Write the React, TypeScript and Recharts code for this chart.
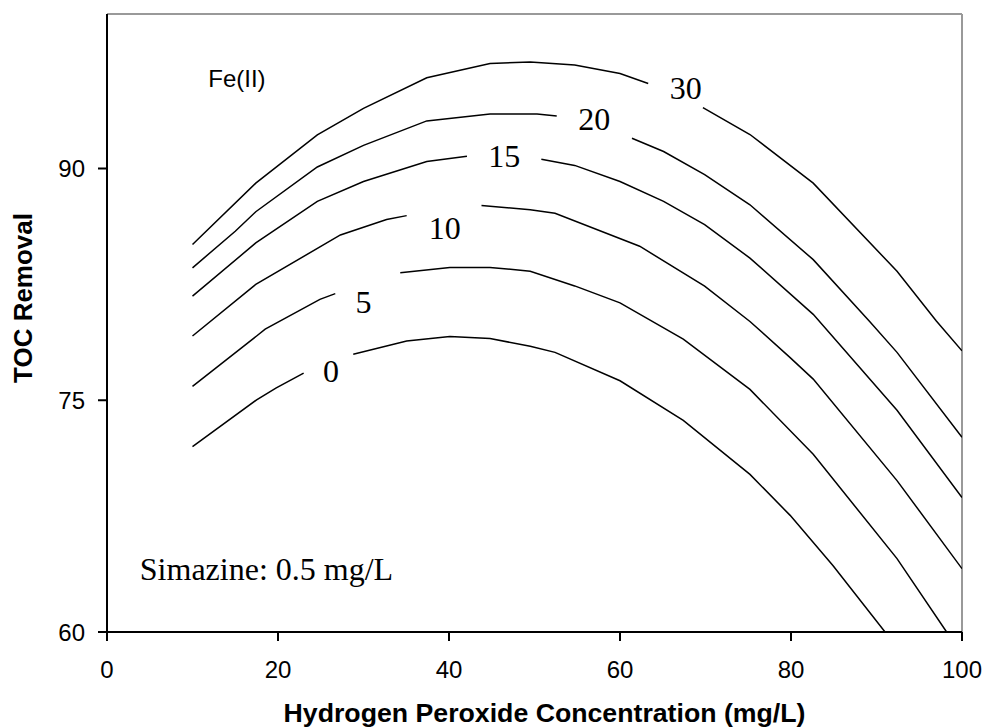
import React from 'react';
import { ComposedChart, Line, Scatter, XAxis, YAxis, ReferenceLine, ReferenceDot, Label } from 'recharts';

// contour lines of TOC removal vs H2O2, one per Fe(II) dose; null = gap for the label
type Pt = [number, number | null];

const fe0: Pt[] = [
  [10, 72.0], [17.5, 75.03], [19.8, 75.8], [23.0, 76.75], [26, null],
  [28.8, 77.98], [35.05, 78.84], [40.1, 79.12], [44.8, 78.99], [49.5, 78.5], [52.4, 78.1],
  [60, 76.26], [67.4, 73.7], [75.2, 70.2], [79.9, 67.55], [84.9, 64.3], [91.0, 60],
];
const fe5: Pt[] = [
  [10, 75.9], [17.5, 79.16], [18.5, 79.6], [24.9, 81.53], [26.7, 81.9], [30, null],
  [34.3, 83.25], [40.1, 83.6], [44.8, 83.6], [49.5, 83.35], [54.7, 82.4], [60, 81.3],
  [67.4, 78.95], [75.2, 75.7], [82.6, 71.5], [92.4, 64.75], [98.2, 60],
];
const fe10: Pt[] = [
  [10, 79.16], [17.4, 82.5], [27.3, 85.7], [32.7, 86.7], [35.05, 86.95], [39.5, null],
  [43.8, 87.6], [49.5, 87.33], [52.4, 87.1], [62.3, 84.97], [69.9, 82.39], [75.2, 80.1],
  [79.9, 77.76], [82.6, 76.37], [92.4, 69.8], [100, 64.1],
];
const fe15: Pt[] = [
  [10, 81.74], [17.4, 85.18], [24.6, 87.87], [30, 89.16], [37.4, 90.45], [42.1, 90.8], [46.5, null],
  [50.8, 90.6], [54.7, 90.2], [60, 89.16], [65.1, 87.87], [69.9, 86.37], [75.2, 84.2],
  [82.6, 80.56], [92.4, 74.35], [100, 68.7],
];
const fe20: Pt[] = [
  [10, 83.57], [15.0, 85.94], [17.4, 87.2], [24.6, 90.1], [30, 91.5], [37.4, 93.08],
  [44.8, 93.53], [50.3, 93.53], [52.6, 93.4], [57, null],
  [61.4, 91.96], [65.1, 91.1], [69.9, 89.6], [75.2, 87.65], [82.6, 84.1], [89.2, 80.1],
  [92.4, 78.1], [100, 72.6],
];
const fe30: Pt[] = [
  [10, 85.08], [17.4, 89.05], [24.6, 92.17], [30, 93.89], [37.4, 95.87], [44.8, 96.8],
  [49.5, 96.9], [54.7, 96.7], [60, 96.15], [63.3, 95.5], [67, null],
  [69.7, 93.94], [75.2, 92.2], [82.6, 89.05], [92.4, 83.35], [97.0, 80.13], [100, 78.2],
];

const labelText = ['0', '5', '10', '15', '20', '30'];
const labelX = [26.2, 30.0, 39.5, 46.45, 57.0, 67.7];
const labelY = [76.87, 81.37, 86.18, 90.79, 93.2, 95.24];

const xTicks = [0, 20, 40, 60, 80, 100];
const yTicks = [60, 75, 90];

const curves = [fe0, fe5, fe10, fe15, fe20, fe30].map((pts) => pts.map(([x, y]) => ({ x, y })));
const labels = labelText.map((t, i) => ({ x: labelX[i], y: labelY[i], t }));

const sans = 'Liberation Sans, Arial, sans-serif';
const serif = 'Liberation Serif, Times New Roman, serif';

const XTick = (p: any) => (
  <text x={p.x} y={p.y + 35} textAnchor="middle" fontSize={24} fontFamily={sans} fill="#000">
    {p.payload.value}
  </text>
);
const YTick = (p: any) => (
  <text x={p.x - 11} y={p.y + 8.6} textAnchor="end" fontSize={24} fontFamily={sans} fill="#000">
    {p.payload.value}
  </text>
);

const LabelShape = (p: any) => (
  <text x={p.cx} y={p.cy} textAnchor="middle" dominantBaseline="central" fontSize={32} fontFamily={serif} fill="#000">
    {p.payload.t}
  </text>
);

export default function App() {
  return (
    <div style={{ position: 'absolute', left: 0, top: 0, background: '#fff' }}>
      <ComposedChart width={986} height={727} margin={{ top: 14, right: 24, left: 7, bottom: 0 }}>
        <XAxis
          dataKey="x"
          type="number"
          domain={[0, 100]}
          ticks={xTicks}
          allowDataOverflow
          height={95}
          tickSize={9}
          axisLine={{ stroke: '#000', strokeWidth: 2 }}
          tickLine={{ stroke: '#000', strokeWidth: 2 }}
          tick={XTick}
        >
          <Label
            content={({ viewBox }: any) => (
              <text x={viewBox.x + viewBox.width / 2 + 10} y={viewBox.y + 90} textAnchor="middle"
                fontSize={26.7} fontWeight="bold" fontFamily={sans} fill="#000">
                Hydrogen Peroxide Concentration (mg/L)
              </text>
            )}
          />
        </XAxis>
        <YAxis
          dataKey="y"
          type="number"
          domain={[60, 100]}
          ticks={yTicks}
          allowDataOverflow
          width={100}
          tickSize={9}
          axisLine={{ stroke: '#000', strokeWidth: 2 }}
          tickLine={{ stroke: '#000', strokeWidth: 2 }}
          tick={YTick}
        >
          <Label
            content={({ viewBox }: any) => {
              const cx = viewBox.x + 16;
              const cy = viewBox.y + viewBox.height / 2 - 25;
              return (
                <text x={cx} y={cy} transform={`rotate(-90 ${cx} ${cy})`} textAnchor="middle" dominantBaseline="central"
                  fontSize={26} fontWeight="bold" fontFamily={sans} fill="#000">
                  TOC Removal
                </text>
              );
            }}
          />
        </YAxis>
        <ReferenceLine y={100} stroke="#999" strokeWidth={2} />
        <ReferenceLine x={100} stroke="#999" strokeWidth={2} />
        {curves.map((rows, i) => (
          <Line
            key={i}
            data={rows}
            dataKey="y"
            type="linear"
            stroke="#000"
            strokeWidth={1.5}
            dot={false}
            activeDot={false}
            isAnimationActive={false}
          />
        ))}
        <Scatter data={labels} dataKey="y" shape={LabelShape} isAnimationActive={false} />
        <ReferenceDot
          x={15.2}
          y={95.8}
          r={0}
          shape={(p: any) => (
            <text x={p.cx} y={p.cy} textAnchor="middle" dominantBaseline="central" fontSize={24} fontFamily={sans} fill="#000">
              Fe(II)
            </text>
          )}
        />
        <ReferenceDot
          x={18.65}
          y={64.06}
          r={0}
          shape={(p: any) => (
            <text x={p.cx} y={p.cy} textAnchor="middle" dominantBaseline="central" fontSize={32} fontFamily={serif} fill="#000">
              Simazine: 0.5 mg/L
            </text>
          )}
        />
      </ComposedChart>
    </div>
  );
}
